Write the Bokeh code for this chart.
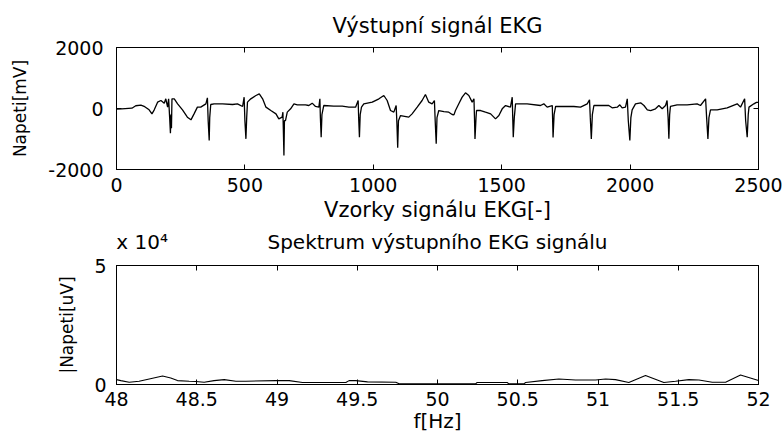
from bokeh.plotting import figure
from bokeh.layouts import column
from bokeh.models import FixedTicker, LinearAxis, Range1d
from bokeh.embed import file_html
from bokeh.resources import INLINE

FONT = "DejaVu Sans"

# ---- top chart: output ECG signal (sample index, mV) ----
ekg_samples = [0, 20, 60, 75, 95, 110, 127, 138, 147, 160, 173, 186, 192, 199, 203, 207, 210, 212, 214, 216,
               225, 238, 257, 276, 290, 302, 315, 328, 348, 354, 357, 361, 363, 367, 380, 413, 452, 471, 491, 497,
               500, 504, 507, 510, 523, 543, 556, 569, 582, 601, 621, 632, 645, 648, 650, 652, 654, 658, 665, 678,
               691, 704, 736, 749, 762, 775, 788, 792, 794, 797, 800, 807, 846, 879, 905, 931, 941, 943, 946, 949,
               954, 963, 996, 1022, 1041, 1054, 1067, 1080, 1089, 1092, 1095, 1098, 1106, 1138, 1151, 1171, 1190,
               1203, 1216, 1229, 1238, 1241, 1245, 1248, 1255, 1275, 1294, 1307, 1314, 1320, 1333, 1346, 1359,
               1372, 1385, 1392, 1394, 1396, 1400, 1402, 1418, 1437, 1457, 1476, 1489, 1502, 1515, 1534, 1541,
               1543, 1545, 1549, 1554, 1573, 1599, 1651, 1664, 1677, 1697, 1700, 1704, 1710, 1742, 1781, 1807,
               1833, 1842, 1845, 1849, 1853, 1859, 1917, 1930, 1950, 1960, 1969, 1982, 1989, 1993, 1999, 2003,
               2008, 2021, 2041, 2054, 2067, 2080, 2099, 2112, 2125, 2138, 2144, 2148, 2151, 2154, 2157, 2183,
               2222, 2261, 2274, 2294, 2298, 2303, 2307, 2313, 2339, 2378, 2417, 2430, 2446, 2450, 2456, 2460,
               2463, 2482, 2492, 2500]
ekg_mv = [-20, -10, 10, 90, 110, 60, -44, -175, -44, 208, 262, 175, 317, 44, 317, -300, -809, -200, -650, 317,
          317, 153, -44, -284, -372, -175, 44, 44, 153, 350, -400, -1049, -300, 131, 153, 153, 131, 153, 66, 372,
          -400, -995, -300, 208, 317, 426, 481, 317, 44, -66, -175, -339, -284, -120, -800, -1541, -400, -394, -120, -11,
          153, 120, 120, 98, 175, 66, 44, 317, -300, -940, -200, 98, 77, 77, 44, 44, 262, -300, -940, -200,
          44, 153, 208, 317, 426, 262, -66, -120, 98, -500, -1290, -400, -230, -284, -175, 44, 262,
          459, 208, 153, 262, -400, -1158, -300, -66, -100, -120, -197, -208, -66, 153, 372, 514,
          426, 208, 317, -300, -1000, -300, -66, -66, -120, -175, -339, -230, -11, 98, 44, 372,
          -300, -940, -300, 153, 153, 153, 98, 153, 44, 98, -950, -200, 66, 66, 66, 44,
          153, 284, -300, -1000, -200, 98, 98, 22, 44, 120, 22, 44, 317, -400, -1049, -300,
          -44, 153, 186, 98, -44, -66, -11, 98, -11, 98, 262, -300, -995, -200, 66, 120,
          120, 153, 98, 317, -300, -995, -300, -44, -44, 22, 153, 44, 317, -400, -940, -200,
          44, 153, 200, 200]

ekg_xticks = [0, 500, 1000, 1500, 2000, 2500]
ekg_xlabels = ["0", "500", "1000", "1500", "2000", "2500"]
ekg_yticks = [-2000, 0, 2000]
ekg_ylabels = ["-2000", "0", "2000"]

# ---- bottom chart: spectrum around 50 Hz (Hz, uV) ----
spec_freq = [48.0, 48.027, 48.079, 48.141, 48.204, 48.287, 48.338, 48.380, 48.453, 48.494, 48.546, 48.608,
             48.671, 48.744, 48.806, 48.993, 49.076, 49.159, 49.221, 49.429, 49.449, 49.491, 49.564, 49.740,
             49.761, 50.237, 50.247, 50.434, 50.445, 50.538, 50.549, 50.652, 50.756, 50.860, 50.985, 51.047,
             51.109, 51.192, 51.296, 51.410, 51.483, 51.566, 51.629, 51.712, 51.795, 51.888, 52.0]
spec_amp = [2049, 1639, 956, 1366, 2322, 3552, 2732, 1639, 1366, 1230, 956, 1639,
            2049, 1366, 1366, 1639, 1639, 820, 820, 820, 1639, 1639, 1093, 956,
            273, 273, 820, 820, 273, 273, 820, 1639, 2322, 1913, 1913, 2322,
            2049, 820, 3825, 820, 1366, 2049, 1913, 956, 956, 3962, 1639]

spec_xticks = [48.0, 48.5, 49.0, 49.5, 50.0, 50.5, 51.0, 51.5, 52.0]
spec_xlabels = ["48", "48.5", "49", "49.5", "50", "50.5", "51", "51.5", "52"]
spec_yticks = [0, 50000]
spec_ylabels = ["0", "5"]

# header row of the lower chart: exponent note (top-left) and the title (centred)
spec_title = "Spektrum výstupního EKG signálu"
spec_scale_text = "x 10\u2074"
spec_header_pos = [48.16, 50.0]
spec_header_text = [spec_scale_text, spec_title]


def setup_axis(ax, ticks, labels, standoff, label_standoff, label_size):
    ax.ticker = FixedTicker(ticks=ticks)
    ax.major_label_overrides = dict(zip(ticks, labels))
    ax.major_tick_in = 5
    ax.major_tick_out = 0
    ax.minor_tick_line_color = None
    ax.major_tick_line_color = "black"
    ax.axis_line_color = "black"
    ax.major_label_text_font = FONT
    ax.major_label_text_font_size = "19px"
    ax.major_label_text_color = "black"
    ax.major_label_standoff = standoff
    ax.axis_label_standoff = label_standoff
    ax.axis_label_text_font = FONT
    ax.axis_label_text_font_size = label_size
    ax.axis_label_text_font_style = "normal"
    ax.axis_label_text_color = "black"


def mirror(p, ticks, side):
    ax = LinearAxis(ticker=FixedTicker(ticks=ticks),
                    major_label_overrides={t: "" for t in ticks},
                    major_tick_in=5, major_tick_out=0, minor_tick_line_color=None,
                    major_label_standoff=0, axis_line_color="black",
                    major_tick_line_color="black", major_label_text_font_size="1px")
    p.add_layout(ax, side)


def make_fig(height, top, bottom, xr, yr, title, title_standoff):
    p = figure(width=783, height=height, x_range=Range1d(*xr), y_range=Range1d(*yr),
               output_backend="svg", toolbar_location=None,
               min_border_left=116, min_border_right=25,
               min_border_top=top, min_border_bottom=bottom)
    p.title.text = title
    p.title.align = "center"
    p.title.text_font = FONT
    p.title.text_font_size = "21px"
    p.title.text_font_style = "normal"
    p.title.text_color = "black"
    p.title.standoff = title_standoff
    p.xgrid.grid_line_color = None
    p.ygrid.grid_line_color = None
    p.outline_line_color = "black"
    p.outline_line_width = 1
    p.background_fill_color = "white"
    p.border_fill_color = "white"
    return p


p1 = make_fig(226, 47, 57, (0, 2500), (-2000, 2000), "Výstupní signál EKG", 19)
p1.line(ekg_samples, ekg_mv, line_color="black", line_width=1.3)
setup_axis(p1.xaxis[0], ekg_xticks, ekg_xlabels, 8, 3, "21px")
setup_axis(p1.yaxis[0], ekg_yticks, ekg_ylabels, 13, 15, "17px")
p1.xaxis[0].axis_label = "Vzorky signálu EKG[-]"
p1.yaxis[0].axis_label = "Napeti[mV]"
mirror(p1, ekg_xticks, "above")
mirror(p1, ekg_yticks, "right")

p2 = make_fig(210, 36, 52, (48, 52), (0, 50000), "", 0)
p2.line(spec_freq, spec_amp, line_color="black", line_width=1.1)
setup_axis(p2.xaxis[0], spec_xticks, spec_xlabels, 7, 0, "20px")
setup_axis(p2.yaxis[0], spec_yticks, spec_ylabels, 10, 14, "17px")
p2.xaxis[0].axis_label = "f[Hz]"
p2.yaxis[0].axis_label = "|Napeti[uV]"
mirror(p2, spec_xticks, "above")
mirror(p2, spec_yticks, "right")
header = LinearAxis(ticker=FixedTicker(ticks=spec_header_pos),
                    major_label_overrides=dict(zip(spec_header_pos, spec_header_text)),
                    major_tick_line_color=None, minor_tick_line_color=None,
                    axis_line_color=None, major_label_standoff=6,
                    major_label_text_font=FONT, major_label_text_font_size="20px",
                    major_label_text_color="black")
p2.add_layout(header, "above")

layout = column(p1, p2, spacing=0)
open("out.html", "w").write(file_html(layout, INLINE))
